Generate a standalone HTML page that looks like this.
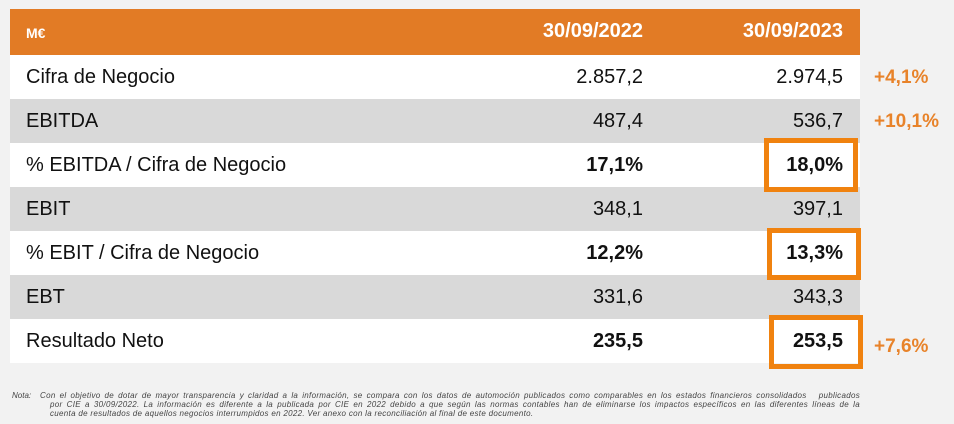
<!DOCTYPE html>
<html><head><meta charset="utf-8"><style>
body{margin:0;width:954px;height:424px;background:#f2f2f2;font-family:"Liberation Sans",sans-serif;position:relative;overflow:hidden}
.r{position:absolute;left:10px;width:850px;height:44px;color:#111;font-size:20px}
.r span{position:absolute;top:11px;line-height:22px}
.l{left:16px}.a{right:217px;text-align:right}.b{right:17px;text-align:right}
.bold{font-weight:bold}
.hdr{top:9px;height:46px;background:#e27b25;color:#fff;font-weight:bold}
.w{background:#fff}.g{background:#d9d9d9}
.pct{position:absolute;left:874px;color:#e8832a;font-weight:bold;font-size:19px}
.box{position:absolute;border:5px solid #f0820f;box-sizing:border-box}
.note{position:absolute;left:12px;top:391px;width:848px;font-size:8px;font-style:italic;color:#444;line-height:9px}
.note .n{position:absolute;left:0}
.note .t{margin-left:28px}
.note .ln{text-align:justify;text-align-last:justify;white-space:nowrap;letter-spacing:0.3px}
.note .last{text-align-last:left}
</style></head><body>
<div class="r hdr"><span class="l" style="font-size:14px;top:13px">M€</span><span class="a">30/09/2022</span><span class="b">30/09/2023</span></div>
<div class="r w" style="top:55px"><span class="l">Cifra de Negocio</span><span class="a">2.857,2</span><span class="b">2.974,5</span></div>
<div class="r g" style="top:99px"><span class="l">EBITDA</span><span class="a">487,4</span><span class="b">536,7</span></div>
<div class="r w" style="top:143px"><span class="l">% EBITDA / Cifra de Negocio</span><span class="a bold">17,1%</span><span class="b bold">18,0%</span></div>
<div class="r g" style="top:187px"><span class="l">EBIT</span><span class="a">348,1</span><span class="b">397,1</span></div>
<div class="r w" style="top:231px"><span class="l">% EBIT / Cifra de Negocio</span><span class="a bold">12,2%</span><span class="b bold">13,3%</span></div>
<div class="r g" style="top:275px"><span class="l">EBT</span><span class="a">331,6</span><span class="b">343,3</span></div>
<div class="r w" style="top:319px"><span class="l">Resultado Neto</span><span class="a bold">235,5</span><span class="b bold">253,5</span></div>
<div class="box" style="left:764px;top:138px;width:94px;height:54px"></div>
<div class="box" style="left:767px;top:228px;width:94px;height:52px"></div>
<div class="box" style="left:769px;top:315px;width:94px;height:54px"></div>
<div class="pct" style="top:67px">+4,1%</div>
<div class="pct" style="top:111px">+10,1%</div>
<div class="pct" style="top:336px">+7,6%</div>
<div class="note"><span class="n">Nota:</span><div class="t">
<div class="ln">Con el objetivo de dotar de mayor transparencia y claridad a la información, se compara con los datos de automoción publicados como comparables en los estados financieros consolidados&nbsp;&nbsp; publicados</div>
<div class="ln" style="padding-left:10px">por CIE a 30/09/2022. La información es diferente a la publicada por CIE en 2022 debido a que según las normas contables han de eliminarse los impactos específicos en las diferentes líneas de la</div>
<div class="ln last" style="padding-left:10px">cuenta de resultados de aquellos negocios interrumpidos en 2022. Ver anexo con la reconciliación al final de este documento.</div>
</div></div>
</body></html>
